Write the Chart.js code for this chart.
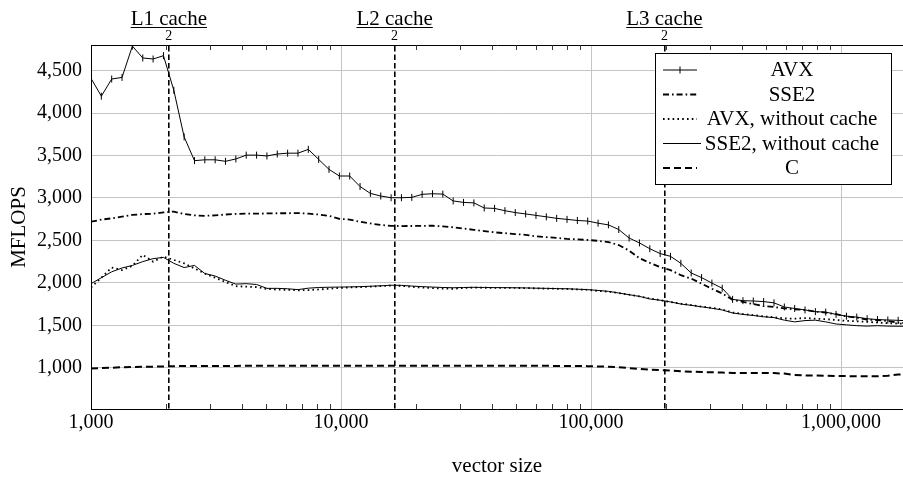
<!DOCTYPE html>
<html><head><meta charset="utf-8">
<script src="https://cdn.jsdelivr.net/npm/chart.js@4/dist/chart.umd.min.js"></script>
<style>html,body{margin:0;padding:0;background:#fff;}#wrap{width:903px;height:477px;position:relative;}canvas{display:block;}</style>
</head><body><div id="wrap"><canvas id="c" width="903" height="477"></canvas></div>
<script>
// ---------- data ----------
const vectorSizes = [1000,1100,1210,1331,1464,1611,1772,1949,2144,2358,
  2594,2853,3138,3452,3797,4177,4595,5054,5560,6116,
  6727,7400,8140,8954,9850,10835,11918,13110,14421,15863,
  17449,19194,21114,23225,25548,28102,30913,34004,37404,41145,
  45259,49785,54764,60240,66264,72890,80180,88197,97017,106719,
  117391,129130,142043,156247,171872,189059,207965,228762,251638,276801,
  304482,334930,368423,405265,445792,490371,539408,593349,652683,717952,
  789747,868722,955594,1051153,1156269,1271895,1399085,1538993,1692893,1862182];

const avx = [4410,4200,4402,4421,4790,4650,4638,4677,4270,3720,
  3440,3450,3450,3432,3460,3505,3505,3495,3518,3528,
  3528,3573,3455,3337,3259,3259,3135,3054,3023,3003,
  3003,3007,3043,3050,3046,2965,2948,2942,2882,2877,
  2850,2828,2812,2795,2778,2760,2748,2735,2728,2703,
  2683,2628,2528,2470,2402,2345,2312,2230,2116,2062,
  1997,1936,1805,1790,1786,1779,1764,1715,1698,1680,
  1660,1655,1628,1607,1596,1577,1567,1562,1558,1552];

const sse2 = [2720,2745,2760,2780,2800,2810,2815,2830,2840,2810,
  2795,2790,2795,2805,2812,2815,2815,2818,2820,2820,
  2822,2815,2805,2790,2755,2745,2720,2700,2682,2672,
  2669,2670,2672,2673,2665,2655,2640,2625,2610,2595,
  2585,2575,2565,2548,2538,2530,2518,2512,2505,2495,
  2480,2445,2380,2290,2235,2185,2150,2090,2050,1990,
  1930,1875,1800,1775,1750,1725,1715,1700,1688,1680,
  1660,1650,1630,1605,1590,1567,1560,1551,1530,1525];

const avxNoCache = [1945,2060,2180,2150,2200,2330,2250,2310,2270,2230,
  2170,2110,2060,2010,1960,1955,1950,1928,1920,1917,
  1912,1915,1922,1930,1940,1945,1950,1955,1962,1968,
  1965,1952,1945,1938,1932,1930,1940,1943,1942,1941,
  1940,1940,1938,1935,1932,1930,1928,1922,1918,1905,
  1895,1880,1860,1840,1815,1795,1775,1755,1738,1720,
  1705,1685,1650,1632,1620,1605,1595,1580,1578,1585,
  1578,1572,1562,1552,1547,1540,1532,1525,1520,1515];

const sse2NoCache = [1990,2060,2130,2175,2205,2250,2285,2300,2230,2180,
  2205,2110,2080,2030,1985,1990,1980,1935,1935,1930,
  1920,1937,1945,1948,1950,1952,1955,1960,1965,1972,
  1970,1962,1955,1950,1945,1942,1945,1947,1945,1944,
  1943,1942,1940,1937,1935,1932,1930,1925,1920,1910,
  1900,1880,1860,1840,1810,1795,1775,1750,1735,1717,
  1700,1680,1645,1628,1615,1600,1590,1560,1540,1555,
  1560,1540,1515,1505,1495,1490,1495,1490,1488,1488];

const cPlain = [990,995,1000,1005,1008,1010,1012,1015,1018,1020,
  1020,1020,1021,1021,1021,1022,1022,1022,1022,1022,
  1022,1022,1022,1022,1022,1022,1022,1022,1022,1022,
  1022,1022,1022,1022,1022,1022,1022,1022,1022,1022,
  1022,1022,1022,1022,1022,1020,1020,1020,1018,1015,
  1012,1005,995,985,978,972,965,958,952,949,
  946,942,938,937,937,937,936,930,915,909,
  907,905,903,901,899,898,898,905,920,921];

const seriesLabels = ['AVX', 'SSE2', 'AVX, without cache', 'SSE2, without cache', 'C'];
const cacheMarks = [2048, 16384, 196608];
const cacheLabels = ['L1 cache', 'L2 cache', 'L3 cache'];
const cacheDivisor = '2';
const xMajorTicks = [1000, 10000, 100000, 1000000];
const yTicks = [1000, 1500, 2000, 2500, 3000, 3500, 4000, 4500];
const xTitle = 'vector size';
const yTitle = 'MFLOPS';

// ---------- styling ----------
const SERIF = "'Liberation Serif', 'Times New Roman', serif";
const GRID = '#c4c4c4';
const pts = arr => vectorSizes.map((x, i) => ({x: x, y: arr[i]}));
const fmt = v => Number(v).toLocaleString('en-US');
const isMinor = v => {
  const m = v / Math.pow(10, Math.floor(Math.log10(v) + 1e-9));
  const r = Math.round(m);
  return Math.abs(m - r) < 1e-6 && r >= 2 && r <= 9;
};

const overlay = {
  id: 'overlay',
  afterDraw(chart) {
    const ctx = chart.ctx, a = chart.chartArea, xs = chart.scales.x, xt = chart.scales.xTop;
    ctx.save();
    // inward minor ticks (top and bottom)
    ctx.strokeStyle = '#222'; ctx.lineWidth = 0.9; ctx.setLineDash([]);
    xs.ticks.forEach(t => {
      if (!isMinor(t.value)) return;
      const px = Math.round(xs.getPixelForValue(t.value)) + 0.5;
      if (px < a.left || px > a.right) return;
      ctx.beginPath();
      ctx.moveTo(px, a.bottom); ctx.lineTo(px, a.bottom - 5);
      ctx.moveTo(px, a.top); ctx.lineTo(px, a.top + 5);
      ctx.stroke();
    });
    // cache labels as fractions
    ctx.fillStyle = '#000'; ctx.textAlign = 'center'; ctx.textBaseline = 'alphabetic';
    cacheMarks.forEach((v, i) => {
      const px = xt.getPixelForValue(v);
      ctx.font = '21px ' + SERIF;
      const w = ctx.measureText(cacheLabels[i]).width;
      ctx.fillText(cacheLabels[i], px, 24.5);
      ctx.lineWidth = 1; ctx.strokeStyle = '#000';
      ctx.beginPath(); ctx.moveTo(px - w / 2, 27.5); ctx.lineTo(px + w / 2, 27.5); ctx.stroke();
      ctx.font = '14px ' + SERIF;
      ctx.fillText(cacheDivisor, px, 39.5);
    });
    // legend
    const L = {x: 655.5, y: 53.5, w: 236, h: 131, row: 24.5, line0: 70, sx1: 663, sx2: 697, tx: 792};
    ctx.fillStyle = '#fff'; ctx.fillRect(L.x, L.y, L.w, L.h);
    ctx.strokeStyle = '#000'; ctx.lineWidth = 1; ctx.setLineDash([]);
    ctx.strokeRect(L.x, L.y, L.w, L.h);
    chart.data.datasets.forEach((ds, i) => {
      const y = L.line0 + i * L.row;
      ctx.save();
      ctx.strokeStyle = '#000';
      ctx.lineWidth = ds.borderWidth;
      ctx.setLineDash(ds.borderDash || []);
      ctx.beginPath(); ctx.moveTo(L.sx1, y); ctx.lineTo(ds.legendEnd || L.sx2, y); ctx.stroke();
      if (ds.pointRadius > 0) {
        const cx = (L.sx1 + L.sx2) / 2;
        ctx.setLineDash([]); ctx.lineWidth = ds.pointBorderWidth;
        ctx.beginPath(); ctx.moveTo(cx, y - ds.pointRadius); ctx.lineTo(cx, y + ds.pointRadius); ctx.stroke();
      }
      ctx.restore();
      ctx.fillStyle = '#000'; ctx.font = '21px ' + SERIF; ctx.textAlign = 'center'; ctx.textBaseline = 'alphabetic';
      ctx.fillText(ds.label, L.tx, y + 6.3);
    });
    ctx.restore();
  }
};

new Chart(document.getElementById('c'), {
  type: 'line',
  data: {
    datasets: [
      {label: seriesLabels[0], data: pts(avx), borderColor: '#000', borderWidth: 1, tension: 0,
       pointStyle: 'line', rotation: 90, pointRadius: 3.5, pointBorderWidth: 1, pointBorderColor: '#000', pointBackgroundColor: '#000',
       xAxisID: 'x', yAxisID: 'y'},
      {label: seriesLabels[1], data: pts(sse2), borderColor: '#000', borderWidth: 1.8, borderDash: [6, 3, 1.6, 3], tension: 0,
       pointRadius: 0, xAxisID: 'x', yAxisID: 'y'},
      {label: seriesLabels[2], data: pts(avxNoCache), borderColor: '#000', borderWidth: 1.8, borderDash: [1.6, 3.2], tension: 0,
       pointRadius: 0, xAxisID: 'x', yAxisID: 'y'},
      {label: seriesLabels[3], data: pts(sse2NoCache), borderColor: '#000', borderWidth: 1, tension: 0,
       pointRadius: 0, xAxisID: 'x', yAxisID: 'y', legendEnd: 701},
      {label: seriesLabels[4], data: pts(cPlain), borderColor: '#000', borderWidth: 2, borderDash: [7, 4], tension: 0,
       pointRadius: 0, xAxisID: 'x', yAxisID: 'y'}
    ]
  },
  options: {
    responsive: false, animation: false, devicePixelRatio: 1,
    layout: {padding: 0, autoPadding: false},
    plugins: {legend: {display: false}, tooltip: {enabled: false}},
    scales: {
      x: {
        type: 'logarithmic', position: 'bottom', min: 1000, max: 1770000,
        afterBuildTicks: s => { s.ticks = s.ticks.filter(t => xMajorTicks.includes(t.value) || isMinor(t.value)); },
        afterFit: s => { s.height = 68; },
        ticks: {autoSkip: false, maxRotation: 0, padding: 2, color: '#000',
          font: {family: SERIF, size: 20},
          callback: v => xMajorTicks.includes(v) ? fmt(v) : ''},
        grid: {drawTicks: false, color: c => (c.tick && xMajorTicks.includes(c.tick.value)) ? GRID : 'rgba(0,0,0,0)', lineWidth: 1},
        border: {display: true, color: '#000', width: 1},
        title: {display: true, text: xTitle, color: '#000', font: {family: SERIF, size: 21, lineHeight: 1}, padding: {top: 0, bottom: 0}}
      },
      xTop: {
        type: 'logarithmic', position: 'top', min: 1000, max: 1770000,
        afterBuildTicks: s => { s.ticks = cacheMarks.map(v => ({value: v})); },
        afterFit: s => { s.height = 45; },
        ticks: {display: false},
        grid: {drawTicks: false, color: '#000', lineWidth: 1.6},
        border: {display: true, color: '#000', width: 1, dash: [5.5, 3]}
      },
      y: {
        type: 'linear', position: 'left', min: 513, max: 4803,
        afterBuildTicks: s => { s.ticks = yTicks.map(v => ({value: v})); },
        afterFit: s => { s.width = 91; },
        ticks: {padding: 9, color: '#000', font: {family: SERIF, size: 20}, callback: v => fmt(v)},
        grid: {drawTicks: false, color: GRID, lineWidth: 1},
        border: {display: true, color: '#000', width: 1},
        title: {display: true, text: yTitle, color: '#000', font: {family: SERIF, size: 21, lineHeight: 1}, padding: {top: 8.5, bottom: 0}}
      }
    }
  },
  plugins: [overlay]
});
</script>
</body></html>
